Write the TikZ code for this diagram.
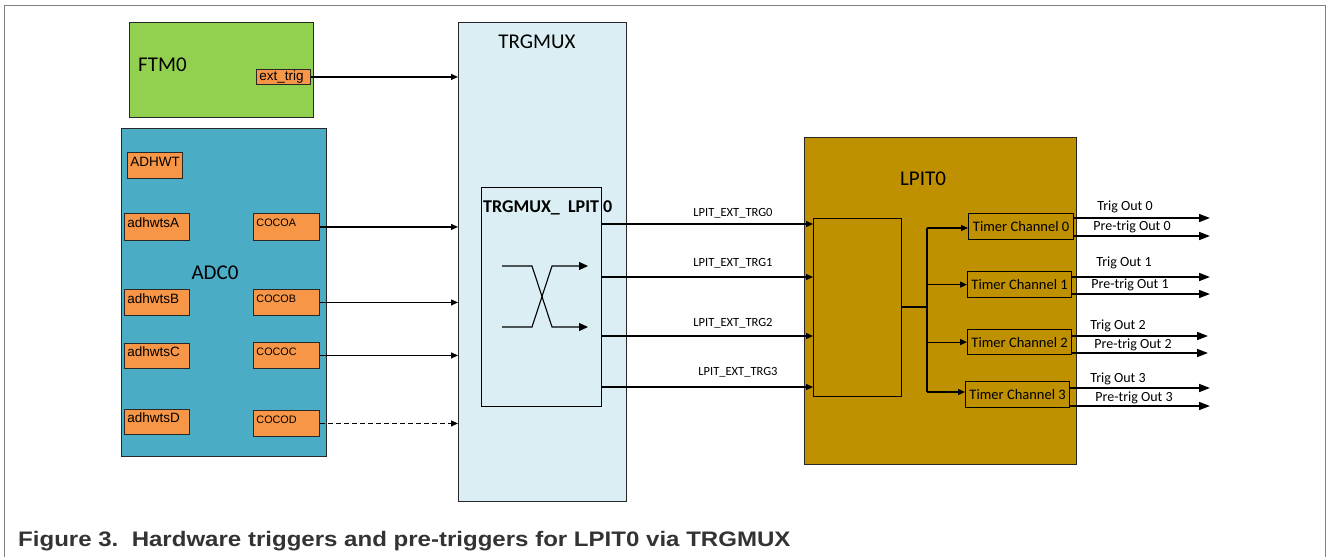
\documentclass[tikz,border=0pt]{standalone}
\usepackage{fontspec}
\usepackage{graphicx}
\setmainfont{Carlito}
\newfontfamily\arialf{Liberation Sans}
\usetikzlibrary{arrows.meta}
\definecolor{ftmgreen}{RGB}{146,208,80}
\definecolor{adcblue}{RGB}{75,172,198}
\definecolor{orng}{RGB}{247,150,70}
\definecolor{muxblue}{RGB}{218,238,243}
\definecolor{lpitgold}{RGB}{191,144,0}
\definecolor{framegray}{RGB}{128,128,128}
\definecolor{capgray}{RGB}{51,51,51}
\definecolor{edge}{RGB}{40,40,40}
\begin{document}
\begin{tikzpicture}[x=1pt,y=-1pt,
  blk/.style={draw=edge, line width=1.1pt, inner sep=0pt, anchor=north west},
  obox/.style={draw=edge, line width=0.9pt, fill=orng, inner xsep=3pt, inner ysep=0pt, anchor=north west, align=left, text height=9pt, text depth=7.5pt, font=\arialf\fontsize{13.5}{15}\selectfont},
  cbox/.style={obox, text height=8pt, text depth=8pt, font=\arialf\fontsize{10.8}{12}\selectfont},
  tbox/.style={draw=black, line width=1.2pt, inner sep=0pt, anchor=north west, font=\fontsize{14.5}{16}\selectfont},
  big/.style={font=\fontsize{21}{24}\selectfont},
  sarr/.style={line width=1.1pt, -{Triangle[length=7pt,width=6pt]}},
  oarr/.style={line width=1.6pt, -{Triangle[length=11pt,width=8pt]}},
  lab/.style={font=\fontsize{12.5}{14}\selectfont, inner sep=0pt},
  olab/.style={font=\fontsize{14}{16}\selectfont, inner sep=0pt}
]
\useasboundingbox (0,0) rectangle (1328,557);
% frame
\draw[framegray, line width=1pt] (4,557) -- (4,5) -- (1325,5) -- (1325,557);

% FTM0
\node[blk, fill=ftmgreen, minimum width=184pt, minimum height=95pt] (ftm) at (129,22) {};
\node[big, anchor=west, inner sep=0pt] (ftml) at (138,65) {FTM0};
\node[obox, minimum height=15pt, text width=48pt, text height=9.7pt, text depth=2.8pt] (ext) at (256,69) {ext\_trig};

% ADC0
\node[blk, fill=adcblue, minimum width=205pt, minimum height=328pt] (adc) at (121,128) {};
\node[big, inner sep=0pt] (adcl) at (215,273) {ADC0};
\node[obox, minimum height=26pt, text width=49pt] (adhwt) at (127,152) {ADHWT};
\node[obox, minimum height=27pt, text width=59pt] (aA) at (124,213) {adhwtsA};
\node[obox, minimum height=26pt, text width=59pt] (aB) at (124,289) {adhwtsB};
\node[obox, minimum height=25pt, text width=59pt] (aC) at (124,343) {adhwtsC};
\node[obox, minimum height=25pt, text width=59pt] (aD) at (124,409) {adhwtsD};
\node[cbox, minimum height=27pt, text width=60pt] (cA) at (253,213) {COCOA};
\node[cbox, minimum height=26pt, text width=60pt] (cB) at (253,289) {COCOB};
\node[cbox, minimum height=26pt, text width=60pt] (cC) at (253,342) {COCOC};
\node[cbox, minimum height=26pt, text width=60pt] (cD) at (253,410) {COCOD};

% TRGMUX
\node[blk, fill=muxblue, minimum width=168pt, minimum height=479pt] (mux) at (458,22) {};
\node[big, inner sep=0pt] (muxl) at (537,42) {TRGMUX};
\node[draw=black, line width=1.2pt, inner sep=0pt, anchor=north west, minimum width=120pt, minimum height=219pt] (mi) at (481,187) {};
\node[font=\bfseries\fontsize{18}{20}\selectfont, anchor=west, inner sep=0pt] (mil) at (483,208) {TRGMUX\_\ \ LPIT\ 0};
\draw[line width=1.1pt, -{Triangle[length=9pt,width=8pt]}] (502,266) -- (532,266) -- (552,327) -- (588,327);
\draw[line width=1.1pt, -{Triangle[length=9pt,width=8pt]}] (502,327) -- (532,327) -- (552,266) -- (588,266);

% inputs to TRGMUX
\draw[sarr] (ext.east) -- (ext.east -| mux.west);
\draw[sarr] (cA.east) -- (cA.east -| mux.west);
\draw[sarr] (cB.east) -- (cB.east -| mux.west);
\draw[sarr] (cC.east) -- (cC.east -| mux.west);
\draw[sarr, dashed, dash pattern=on 5pt off 3pt] (cD.east) -- (cD.east -| mux.west);

% LPIT0
\node[blk, fill=lpitgold, minimum width=272pt, minimum height=327pt] (lpit) at (804,137) {};
\node[big, inner sep=0pt] (lpitl) at (923,179) {LPIT0};
\node[draw=black, line width=1.2pt, inner sep=0pt, anchor=north west, minimum width=88pt, minimum height=178pt] (li) at (813,218) {};

% LPIT_EXT_TRG lines
\coordinate (g0) at (601,224);
\coordinate (g1) at (601,277);
\coordinate (g2) at (601,336);
\coordinate (g3) at (601,387);
\draw[sarr] (g0 -| mi.east) -- (g0 -| li.west);
\draw[sarr] (g1 -| mi.east) -- (g1 -| li.west);
\draw[sarr] (g2 -| mi.east) -- (g2 -| li.west);
\draw[sarr] (g3 -| mi.east) -- (g3 -| li.west);
\node[lab] (l0) at (733,213) {LPIT\_EXT\_TRG0};
\node[lab] (l1) at (733,263) {LPIT\_EXT\_TRG1};
\node[lab] (l2) at (733,323) {LPIT\_EXT\_TRG2};
\node[lab] (l3) at (738,372) {LPIT\_EXT\_TRG3};

% Timer channels
\node[tbox, minimum width=105pt, minimum height=26pt] (t0) at (968,213) {Timer Channel 0};
\node[tbox, minimum width=104pt, minimum height=26pt] (t1) at (967,271) {Timer Channel 1};
\node[tbox, minimum width=104pt, minimum height=25pt] (t2) at (967,329) {Timer Channel 2};
\node[tbox, minimum width=104pt, minimum height=26pt] (t3) at (965,381) {Timer Channel 3};

% distribution bus
\coordinate (bj) at (927,307);
\coordinate (btop) at (927,228);
\coordinate (bbot) at (927,392);
\draw[line width=1.1pt] (li.east |- bj) -- (bj);
\draw[line width=1.1pt] (btop) -- (bbot);
\draw[sarr] (btop) -- (btop -| t0.west);
\draw[sarr] (t1.west -| btop) -- (t1.west);
\draw[sarr] (t2.west -| btop) -- (t2.west);
\draw[sarr] (bbot) -- (bbot -| t3.west);

% outputs
\coordinate (o0a) at (1210,218); \coordinate (o0b) at (1210,236);
\coordinate (o1a) at (1210,277); \coordinate (o1b) at (1210,294);
\coordinate (o2a) at (1208,336); \coordinate (o2b) at (1208,353);
\coordinate (o3a) at (1210,388); \coordinate (o3b) at (1210,406);
\draw[oarr] (o0a -| t0.east) -- (o0a);
\draw[oarr] (o0b -| t0.east) -- (o0b);
\draw[oarr] (o1a -| t1.east) -- (o1a);
\draw[oarr] (o1b -| t1.east) -- (o1b);
\draw[oarr] (o2a -| t2.east) -- (o2a);
\draw[oarr] (o2b -| t2.east) -- (o2b);
\draw[oarr] (o3a -| t3.east) -- (o3a);
\draw[oarr] (o3b -| t3.east) -- (o3b);
\node[olab] (q0a) at (1125,207) {Trig Out 0};
\node[olab] (q0b) at (1132,227) {Pre-trig Out 0};
\node[olab] (q1a) at (1124,263) {Trig Out 1};
\node[olab] (q1b) at (1130,285) {Pre-trig Out 1};
\node[olab] (q2a) at (1118,326) {Trig Out 2};
\node[olab] (q2b) at (1133,345) {Pre-trig Out 2};
\node[olab] (q3a) at (1118,379) {Trig Out 3};
\node[olab] (q3b) at (1134,398) {Pre-trig Out 3};

% caption
\node[anchor=base west, inner sep=0pt, text=capgray, font=\arialf\bfseries\fontsize{21}{24}\selectfont] (cap) at (18,546) {\scalebox{1.145}[1]{Figure 3.\ \ Hardware triggers and pre-triggers for LPIT0 via TRGMUX}};
\end{tikzpicture}
\end{document}
